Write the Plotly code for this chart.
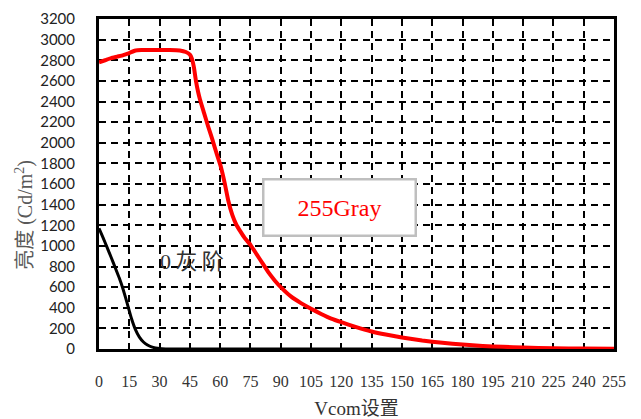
import plotly.graph_objects as go

# 255 gray curve
red_x = [0, 3, 6, 9, 12, 15, 18, 21, 25, 30, 35, 40, 43, 45, 46, 47, 48, 49, 50, 52, 54, 56, 58,
         60, 62, 64, 66, 68, 70, 72, 75, 78, 81, 84, 87, 90, 95, 100, 105, 110, 115, 120, 127,
         135, 142, 150, 160, 170, 180, 190, 200, 210, 225, 240, 255]
red_y = [2780, 2800, 2820, 2835, 2850, 2870, 2895, 2900, 2900, 2900, 2900, 2895, 2880, 2855, 2815,
         2730, 2600, 2500, 2420, 2290, 2160, 2040, 1910, 1790, 1630, 1440, 1300, 1205, 1140, 1080,
         1010, 920, 830, 740, 665, 600, 510, 445, 390, 340, 295, 260, 215, 170, 140, 112, 82, 60,
         43, 30, 21, 14, 8, 4, 2]

# 0 gray curve
black_x = [0, 2, 4, 6, 8, 10, 12, 14, 16, 18, 20, 22, 24, 26, 28, 30, 33, 36, 45, 60, 90, 150, 255]
black_y = [1170, 1080, 985, 890, 790, 690, 575, 440, 300, 190, 115, 68, 38, 20, 10, 4, 1, 0, 0, 0, 0, 0, 0]

x_ticks = list(range(0, 256, 15))
y_ticks = list(range(0, 3201, 200))

serif = "Liberation Serif, Noto Sans CJK SC"

fig = go.Figure()
fig.add_trace(go.Scatter(x=black_x, y=black_y, mode="lines",
                         line=dict(color="black", width=3, shape="spline", smoothing=0.4),
                         showlegend=False))
fig.add_trace(go.Scatter(x=red_x, y=red_y, mode="lines",
                         line=dict(color="#ff0000", width=4, shape="spline", smoothing=0.4),
                         showlegend=False))

fig.add_annotation(x=46, y=850, text="0\u2009灰\u2009阶", showarrow=False,
                   font=dict(family=serif, size=22, color="#333333"))
fig.add_annotation(x=119, y=1375, text="255Gray", showarrow=False,
                   font=dict(family="Liberation Serif", size=24, color="#ff0000"),
                   bgcolor="white", bordercolor="#bfbfbf", borderwidth=2.5,
                   width=148, height=52)
# y axis title as a rotated annotation
fig.add_annotation(xref="paper", yref="paper", x=-0.146, y=0.406, text="亮度 (Cd/m<sup>2</sup>)",
                   textangle=-90, showarrow=False, xanchor="center", yanchor="middle",
                   font=dict(family=serif, size=20, color="#595959"))

grid = dict(showline=True, linecolor="black", linewidth=3, mirror=True, showgrid=True,
            gridcolor="black", gridwidth=1.6, griddash="7px,5px", zeroline=False, ticks="",
            automargin=False)

fig.update_xaxes(range=[0, 255], tickvals=x_ticks, ticklabelstandoff=16, **grid,
                 tickfont=dict(family="Liberation Serif", size=16, color="#333333"),
                 title=dict(text="Vcom设置", font=dict(family=serif, size=19, color="#333333"), standoff=19))
fig.update_yaxes(range=[0, 3200], tickvals=y_ticks, ticklabelstandoff=18, **grid,
                 tickfont=dict(family="Lato", size=15, color="#222222"))
# page has an 8px body margin at top/left, so the figure is 8px smaller than the window
fig.update_layout(width=633, height=411, margin=dict(l=91, r=27, t=11, b=70),
                  plot_bgcolor="white", paper_bgcolor="white")

fig.write_html("out.html")
